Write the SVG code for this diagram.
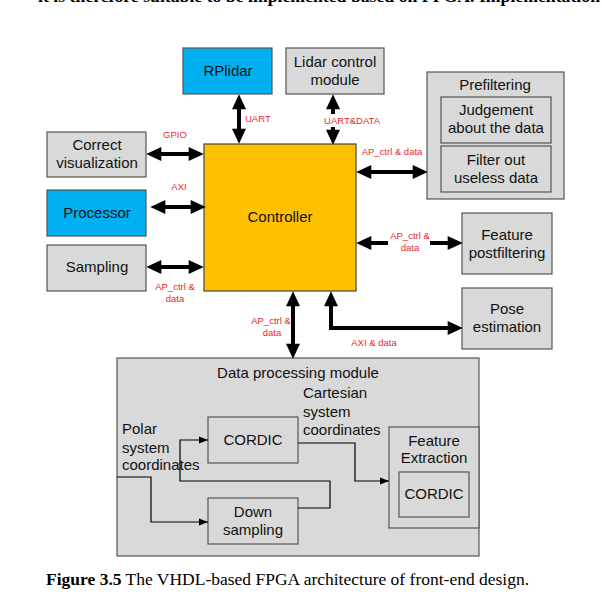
<svg xmlns="http://www.w3.org/2000/svg" width="602" height="603" viewBox="0 0 602 603">
<defs>
<style>
.box{fill:#d9d9d9;stroke:#555;stroke-width:1.2}
.blue{fill:#00b0f0;stroke:#555;stroke-width:1.2}
.ctrl{fill:#ffc000;stroke:#444;stroke-width:1.2}
.t{font-family:"Liberation Sans",Arial,sans-serif;font-size:15px;fill:#111;text-anchor:middle}
.ts{font-family:"Liberation Sans",Arial,sans-serif;font-size:15px;fill:#111}
.r{font-family:"Liberation Sans",Arial,sans-serif;font-size:9.5px;fill:#e8262d;text-anchor:middle}
.rs{font-family:"Liberation Sans",Arial,sans-serif;font-size:9.5px;fill:#e8262d}
.thick{fill:none;stroke:#000;stroke-width:4;stroke-linejoin:miter;marker-start:url(#big);marker-end:url(#big)}
.thin{fill:none;stroke:#000;stroke-width:1.2;marker-end:url(#small)}
.cap{font-family:"Liberation Serif","Times New Roman",serif;fill:#000}
</style>
<marker id="big" markerUnits="userSpaceOnUse" markerWidth="16" markerHeight="14" viewBox="0 0 14 13" refX="4" refY="6.5" orient="auto-start-reverse">
<path d="M0,0 L14,6.5 L0,13 z" fill="#000"/>
</marker>
<marker id="small" markerUnits="userSpaceOnUse" markerWidth="9" markerHeight="8" viewBox="0 0 9 7" refX="9" refY="3.5" orient="auto">
<path d="M0,0 L9,3.5 L0,7 z" fill="#000"/>
</marker>
</defs>
<rect width="602" height="603" fill="#fff"/>
<text class="cap" x="38" y="2" font-size="16.5" font-weight="bold" textLength="562" lengthAdjust="spacingAndGlyphs">it is therefore suitable to be implemented based on FPGA. Implementation</text>

<g id="rplidar"><rect class="blue" x="183" y="48" width="89" height="46"/><text class="t" x="228" y="76">RPlidar</text></g>
<g id="lidar-control"><rect class="box" x="286" y="48" width="98" height="46"/><text class="t" x="335" y="67">Lidar control</text><text class="t" x="335" y="85">module</text></g>
<g id="controller"><rect class="ctrl" x="204" y="144" width="152" height="147"/><text class="t" x="280" y="222">Controller</text></g>
<g id="correct-visualization"><rect class="box" x="47" y="132" width="99" height="45"/><text class="t" x="97" y="150">Correct</text><text class="t" x="97" y="168">visualization</text></g>
<g id="processor"><rect class="blue" x="47" y="190" width="99" height="46"/><text class="t" x="97" y="218">Processor</text></g>
<g id="sampling"><rect class="box" x="47" y="245" width="99" height="46"/><text class="t" x="97" y="272">Sampling</text></g>
<g id="prefiltering"><rect class="box" x="427" y="72" width="137" height="127"/><text class="t" x="495" y="90">Prefiltering</text>
<g id="judgement"><rect class="box" x="441" y="97" width="110" height="46"/><text class="t" x="496" y="115">Judgement</text><text class="t" x="496" y="133">about the data</text></g>
<g id="filter-out"><rect class="box" x="441" y="146" width="110" height="46"/><text class="t" x="496" y="165">Filter out</text><text class="t" x="496" y="183">useless data</text></g>
</g>
<g id="feature-postfiltering"><rect class="box" x="462" y="213" width="90" height="61"/><text class="t" x="507" y="240">Feature</text><text class="t" x="507" y="258">postfiltering</text></g>
<g id="pose-estimation"><rect class="box" x="462" y="288" width="90" height="61"/><text class="t" x="507" y="314">Pose</text><text class="t" x="507" y="332">estimation</text></g>

<g id="data-processing">
<rect class="box" x="117" y="358" width="362" height="198"/>
<text class="t" x="298" y="378">Data processing module</text>
<text class="ts" x="303" y="398">Cartesian</text>
<text class="ts" x="303" y="417">system</text>
<text class="ts" x="303" y="435">coordinates</text>
<text class="ts" x="122" y="434">Polar</text>
<text class="ts" x="122" y="453">system</text>
<text class="ts" x="122" y="470">coordinates</text>
</g>
<g id="cordic1"><rect class="box" x="208" y="417" width="90" height="46"/><text class="t" x="253" y="445">CORDIC</text></g>
<g id="down-sampling"><rect class="box" x="208" y="498" width="90" height="46"/><text class="t" x="253" y="517">Down</text><text class="t" x="253" y="535">sampling</text></g>
<g id="feature-extraction"><rect class="box" x="389" y="427" width="90" height="101"/><text class="t" x="434" y="446">Feature</text><text class="t" x="434" y="463">Extraction</text></g>
<g id="cordic2"><rect class="box" x="399" y="472" width="70" height="45"/><text class="t" x="434" y="499">CORDIC</text></g>

<g id="connectors">
<path class="thick" d="M157,154 H193"/>
<path class="thick" d="M161,207 H195"/>
<path class="thick" d="M157,267 H193"/>
<path class="thick" d="M239,105 V133"/>
<path class="thick" d="M333,105 V134"/>
<path class="thick" d="M367,172 H417"/>
<path class="thick" d="M367,243 H452"/>
<path class="thick" d="M293,302 V348"/>
<path class="thick" d="M331,302 V328 H452"/>
<rect x="320" y="114" width="64" height="13" fill="#fff"/>
<rect x="388" y="230" width="42" height="24" fill="#fff"/>
<path class="thin" d="M117,477 H151 V522 H208"/>
<path class="thin" d="M298,508 H330 V481 H180 V440 H208"/>
<path class="thin" d="M298,443 H355 V481 H389"/>
</g>

<g id="labels">
<text class="r" x="175" y="138">GPIO</text>
<text class="r" x="179" y="190">AXI</text>
<text class="r" x="175" y="290">AP_ctrl &amp;</text>
<text class="r" x="175" y="302">data</text>
<text class="rs" x="245" y="122">UART</text>
<text class="r" x="352" y="124">UART&amp;DATA</text>
<text class="r" x="392" y="155">AP_ctrl &amp; data</text>
<text class="r" x="410" y="239">AP_ctrl &amp;</text>
<text class="r" x="410" y="251">data</text>
<text class="r" x="271" y="324">AP_ctrl &amp;</text>
<text class="r" x="272" y="336">data</text>
<text class="r" x="374" y="346">AXI &amp; data</text>
</g>

<text class="cap" x="46" y="585" font-size="17.5"><tspan font-weight="bold">Figure 3.5</tspan> The VHDL-based FPGA architecture of front-end design.</text>
</svg>
